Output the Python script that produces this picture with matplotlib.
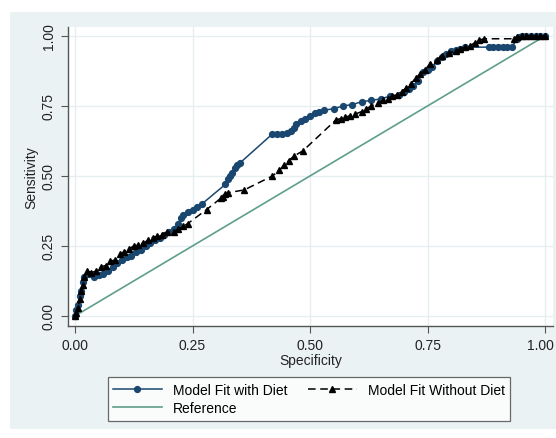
import matplotlib
matplotlib.use('Agg')
import matplotlib.pyplot as plt
import matplotlib.transforms as mtransforms
from matplotlib.patches import Rectangle

plt.rcParams['font.family'] = ['Liberation Sans', 'DejaVu Sans']

# ============================================================
# 数据
# ============================================================

with_diet_x = [0, 0.003, 0.006, 0.01, 0.013, 0.017, 0.02, 0.03, 0.04, 0.05, 0.06, 0.07,
               0.08, 0.09, 0.10, 0.11, 0.12, 0.13, 0.14, 0.15, 0.16, 0.17, 0.18, 0.19,
               0.20, 0.21, 0.22, 0.225, 0.23, 0.24, 0.25, 0.26, 0.27, 0.32, 0.325, 0.33,
               0.335, 0.34, 0.345, 0.35, 0.42, 0.43, 0.44, 0.45, 0.46, 0.465, 0.47, 0.48,
               0.49, 0.50, 0.51, 0.52, 0.53, 0.55, 0.57, 0.59, 0.61, 0.63, 0.65, 0.67,
               0.69, 0.70, 0.71, 0.72, 0.73, 0.74, 0.75, 0.76, 0.77, 0.78, 0.79, 0.80,
               0.81, 0.82, 0.83, 0.88, 0.89, 0.90, 0.91, 0.92, 0.93, 0.94, 0.945, 0.95,
               0.96, 0.97, 0.98, 0.99, 1.0]
with_diet_y = [0, 0.02, 0.04, 0.07, 0.09, 0.12, 0.14, 0.15, 0.14, 0.145, 0.15, 0.16,
               0.175, 0.19, 0.20, 0.21, 0.215, 0.23, 0.235, 0.25, 0.26, 0.27, 0.28, 0.29,
               0.30, 0.31, 0.33, 0.35, 0.36, 0.37, 0.38, 0.39, 0.40, 0.47, 0.49, 0.50,
               0.51, 0.53, 0.54, 0.545, 0.65, 0.65, 0.65, 0.655, 0.66, 0.67, 0.685, 0.695,
               0.705, 0.715, 0.725, 0.73, 0.735, 0.74, 0.75, 0.755, 0.765, 0.77, 0.775, 0.785,
               0.79, 0.80, 0.81, 0.82, 0.84, 0.87, 0.88, 0.89, 0.91, 0.925, 0.935, 0.945,
               0.95, 0.955, 0.96, 0.96, 0.96, 0.96, 0.96, 0.96, 0.96, 0.99, 0.995, 1.0,
               1.0, 1.0, 1.0, 1.0, 1.0]

without_diet_x = [0, 0.003, 0.006, 0.01, 0.013, 0.017, 0.02, 0.025, 0.035, 0.045, 0.055,
                  0.065, 0.075, 0.085, 0.095, 0.105, 0.115, 0.125, 0.135, 0.145, 0.155,
                  0.165, 0.175, 0.185, 0.195, 0.21, 0.22, 0.23, 0.24, 0.28, 0.31, 0.315,
                  0.32, 0.325, 0.36, 0.42, 0.435, 0.445, 0.455, 0.465, 0.485, 0.555, 0.565,
                  0.575, 0.585, 0.595, 0.61, 0.62, 0.63, 0.645, 0.655, 0.665, 0.675, 0.685,
                  0.695, 0.705, 0.715, 0.725, 0.735, 0.745, 0.755, 0.77, 0.78, 0.795, 0.81,
                  0.82, 0.83, 0.84, 0.85, 0.86, 0.87, 0.935, 0.94, 0.95, 0.96, 0.97, 0.98,
                  0.99, 1.0]
without_diet_y = [0, 0.01, 0.03, 0.06, 0.09, 0.11, 0.14, 0.16, 0.155, 0.16, 0.175,
                  0.18, 0.195, 0.20, 0.22, 0.23, 0.24, 0.25, 0.255, 0.26, 0.27,
                  0.28, 0.285, 0.29, 0.30, 0.30, 0.31, 0.32, 0.33, 0.38, 0.42, 0.425,
                  0.435, 0.44, 0.45, 0.50, 0.52, 0.54, 0.555, 0.57, 0.59, 0.70, 0.705,
                  0.71, 0.715, 0.72, 0.73, 0.74, 0.75, 0.76, 0.77, 0.775, 0.785, 0.79,
                  0.80, 0.815, 0.83, 0.85, 0.865, 0.88, 0.90, 0.915, 0.93, 0.94, 0.945,
                  0.955, 0.96, 0.965, 0.975, 0.985, 0.99, 0.99, 0.995, 1.0, 1.0, 1.0, 1.0,
                  1.0, 1.0]

reference_x = [0, 1]
reference_y = [0, 1]

x_ticks = [0, 0.25, 0.5, 0.75, 1.0]
y_ticks = [0, 0.25, 0.5, 0.75, 1.0]

# ============================================================
# 绘图
# ============================================================

W, H = 556, 439
fig = plt.figure(figsize=(W / 100, H / 100), dpi=100)
fig.patch.set_facecolor('white')

# Stata 风格的浅色背景区域（放在坐标轴下面）
fig.patches.append(Rectangle((10 / W, 1 - 430 / H), 546 / W, 417 / H,
                             transform=fig.transFigure, facecolor='#eaf2f3',
                             edgecolor='none', zorder=-10))

ax = fig.add_axes([68 / W, 1 - 327 / H, (553 - 68) / W, (327 - 28) / H])
ax.set_zorder(1)
ax.set_facecolor('white')

navy = '#1a476f'
green = '#5e9e8c'

l_ref, = ax.plot(reference_x, reference_y, color=green, lw=1.2, zorder=2)
l_wd, = ax.plot(with_diet_x, with_diet_y, color=navy, lw=1.1, marker='o',
                ms=4.2, mec=navy, mfc=navy, zorder=3)
l_wo, = ax.plot(without_diet_x, without_diet_y, color='black', lw=1.1,
                ls=(0, (5, 3)), marker='^', ms=4.4, mec='black', mfc='black', zorder=4)

ax.set_xlim(-0.015, 1.017)
ax.set_ylim(-0.036, 1.032)
ax.set_xticks(x_ticks)
ax.set_yticks(y_ticks)
ax.set_xticklabels([f'{t:.2f}' for t in x_ticks])
ax.set_yticklabels([f'{t:.2f}' for t in y_ticks], rotation=90, va='center')
ax.grid(True, color='#e6eef0', lw=1.0, zorder=0)
ax.set_axisbelow(True)

for s in ['top', 'right']:
    ax.spines[s].set_visible(False)
for s in ['left', 'bottom']:
    ax.spines[s].set_color('#555555')
    ax.spines[s].set_linewidth(1.0)
ax.tick_params(direction='out', length=5, width=0.8, color='#555555',
               labelsize=10, labelcolor='#222222', pad=4)

# 最右侧刻度标签稍微左移，避免被图边裁掉
last = ax.get_xticklabels()[-1]
last.set_transform(last.get_transform() +
                   mtransforms.ScaledTranslation(-5 / 100, 0, fig.dpi_scale_trans))

ax.set_xlabel('Specificity', fontsize=10, color='#222222', labelpad=0)
ax.set_ylabel('Sensitivity', fontsize=10, color='#222222', labelpad=2)

leg = fig.legend([l_wd, l_ref, l_wo],
                 ['Model Fit with Diet', 'Reference', 'Model Fit Without Diet'],
                 ncol=2, loc='center', bbox_to_anchor=(309 / W, 1 - 400 / H),
                 fontsize=10, frameon=True, fancybox=False, handlelength=3.5,
                 columnspacing=1.5, handletextpad=0.8, borderpad=0.4,
                 labelspacing=0.3)
leg.get_frame().set_edgecolor('#444444')
leg.get_frame().set_linewidth(0.9)
leg.get_frame().set_facecolor('white')
for h in leg.legend_handles:
    h.set_markevery([1])

fig.savefig('out.png', dpi=100)
